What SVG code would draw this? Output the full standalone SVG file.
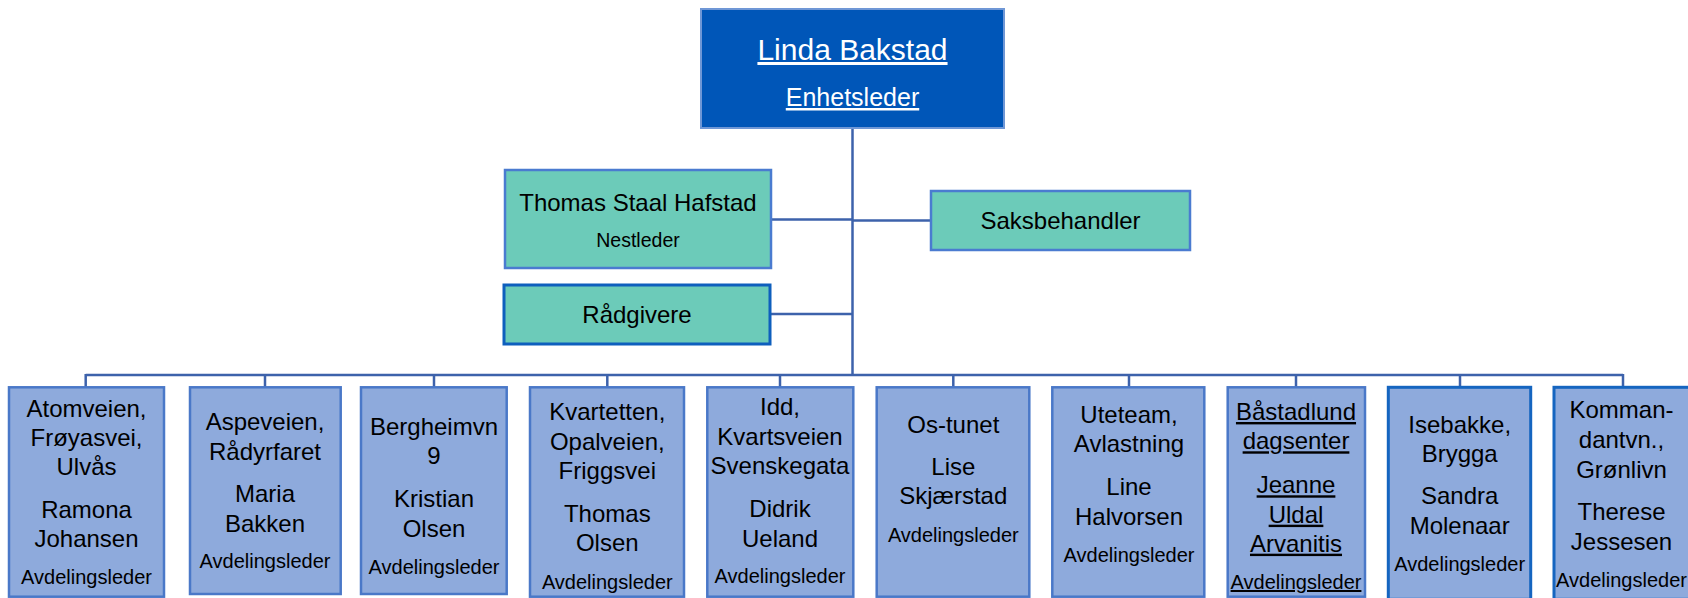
<svg xmlns="http://www.w3.org/2000/svg" width="1688" height="598" viewBox="0 0 1688 598">
<style>
text{font-family:"Liberation Sans",Arial,sans-serif;text-anchor:middle;fill:#000}
.big{font-size:24px}
.sm{font-size:20px}
.u{text-decoration:underline}
.dept{fill:#8eaadc;stroke:#4a78c8;stroke-width:2.5}
.dept2{fill:#8eaadc;stroke:#1565c0;stroke-width:3}
.teal{fill:#6ccbb9;stroke:#4a7bd0;stroke-width:2.5}
.teal2{fill:#6ccbb9;stroke:#0e5fbd;stroke-width:3}
.conn line{stroke:#3d62ab;stroke-width:2.5;fill:none}
</style>
<rect width="1688" height="598" fill="#ffffff"/>
<g class="conn" id="connectors">
<line x1="852.5" y1="128" x2="852.5" y2="376"/>
<line x1="771" y1="219.5" x2="852.5" y2="219.5"/>
<line x1="852.5" y1="220.5" x2="931" y2="220.5"/>
<line x1="770" y1="314" x2="852.5" y2="314"/>
<line x1="85.7" y1="375" x2="1623" y2="375"/>
<line x1="85.7" y1="374" x2="85.7" y2="387"/>
<line x1="265" y1="374" x2="265" y2="387"/>
<line x1="434" y1="374" x2="434" y2="387"/>
<line x1="607.3" y1="374" x2="607.3" y2="387"/>
<line x1="780" y1="374" x2="780" y2="387"/>
<line x1="953.3" y1="374" x2="953.3" y2="387"/>
<line x1="1129" y1="374" x2="1129" y2="387"/>
<line x1="1296" y1="374" x2="1296" y2="387"/>
<line x1="1460" y1="374" x2="1460" y2="387"/>
<line x1="1623" y1="374" x2="1623" y2="387"/>
</g>
<g id="n-linda">
<rect x="701" y="9" width="303" height="119" fill="#0056b8" stroke="#6f97d6" stroke-width="2"/>
<text x="852.5" y="60" class="u" style="font-size:30px;fill:#fff">Linda Bakstad</text>
<text x="852.5" y="106" class="u" style="font-size:25px;fill:#fff">Enhetsleder</text>
</g>
<g id="n-thomas">
<rect x="505" y="170" width="266" height="98" class="teal"/>
<text x="638" y="210.7" class="big">Thomas Staal Hafstad</text>
<text x="638" y="247.3" style="font-size:19.5px">Nestleder</text>
</g>
<g id="n-saks">
<rect x="931" y="191" width="259" height="59" class="teal"/>
<text x="1060.5" y="229" class="big">Saksbehandler</text>
</g>
<g id="n-radgivere">
<rect x="504" y="285" width="266" height="59" class="teal2"/>
<text x="637" y="322.7" class="big">Rådgivere</text>
</g>
<g id="n-atomveien">
<rect x="9" y="387.3" width="155" height="209.4" class="dept"/>
<text x="86.5" y="416.7" class="big">Atomveien,</text>
<text x="86.5" y="445.7" class="big">Frøyasvei,</text>
<text x="86.5" y="475" class="big">Ulvås</text>
<text x="86.5" y="517.7" class="big">Ramona</text>
<text x="86.5" y="546.7" class="big">Johansen</text>
<text x="86.5" y="584.3" class="sm">Avdelingsleder</text>
</g>
<g id="n-aspeveien">
<rect x="190" y="387.3" width="150.7" height="206.7" class="dept"/>
<text x="265" y="430" class="big">Aspeveien,</text>
<text x="265" y="460" class="big">Rådyrfaret</text>
<text x="265" y="502.3" class="big">Maria</text>
<text x="265" y="531.7" class="big">Bakken</text>
<text x="265" y="568.3" class="sm">Avdelingsleder</text>
</g>
<g id="n-bergheim">
<rect x="361" y="387.3" width="145.7" height="206.7" class="dept"/>
<text x="434" y="435" class="big">Bergheimvn</text>
<text x="434" y="464.3" class="big">9</text>
<text x="434" y="506.7" class="big">Kristian</text>
<text x="434" y="536.7" class="big">Olsen</text>
<text x="434" y="574" class="sm">Avdelingsleder</text>
</g>
<g id="n-kvartetten">
<rect x="530" y="387.3" width="154" height="209.4" class="dept"/>
<text x="607.3" y="420" class="big">Kvartetten,</text>
<text x="607.3" y="450" class="big">Opalveien,</text>
<text x="607.3" y="479.3" class="big">Friggsvei</text>
<text x="607.3" y="521.7" class="big">Thomas</text>
<text x="607.3" y="551" class="big">Olsen</text>
<text x="607.3" y="589" class="sm">Avdelingsleder</text>
</g>
<g id="n-idd">
<rect x="707.3" y="387.3" width="146" height="209.4" class="dept"/>
<text x="780" y="415" class="big">Idd,</text>
<text x="780" y="445" class="big">Kvartsveien</text>
<text x="780" y="474.3" class="big">Svenskegata</text>
<text x="780" y="516.7" class="big">Didrik</text>
<text x="780" y="546.7" class="big">Ueland</text>
<text x="780" y="583.3" class="sm">Avdelingsleder</text>
</g>
<g id="n-ostunet">
<rect x="876.7" y="387.3" width="152.6" height="209.4" class="dept"/>
<text x="953.3" y="432.7" class="big">Os-tunet</text>
<text x="953.3" y="475" class="big">Lise</text>
<text x="953.3" y="504.3" class="big">Skjærstad</text>
<text x="953.3" y="542.3" class="sm">Avdelingsleder</text>
</g>
<g id="n-uteteam">
<rect x="1052.3" y="387.3" width="152" height="209.4" class="dept"/>
<text x="1129" y="423.3" class="big">Uteteam,</text>
<text x="1129" y="451.7" class="big">Avlastning</text>
<text x="1129" y="495" class="big">Line</text>
<text x="1129" y="525" class="big">Halvorsen</text>
<text x="1129" y="561.7" class="sm">Avdelingsleder</text>
</g>
<g id="n-bastadlund">
<rect x="1227.7" y="387.3" width="137.3" height="209.4" class="dept"/>
<text x="1296" y="420" class="big u">Båstadlund</text>
<text x="1296" y="449.3" class="big u">dagsenter</text>
<text x="1296" y="493.3" class="big u">Jeanne</text>
<text x="1296" y="522.7" class="big u">Uldal</text>
<text x="1296" y="551.7" class="big u">Arvanitis</text>
<text x="1296" y="589" class="sm u">Avdelingsleder</text>
</g>
<g id="n-isebakke">
<rect x="1388.3" y="387.3" width="142.4" height="212" class="dept2"/>
<text x="1459.7" y="432.7" class="big">Isebakke,</text>
<text x="1459.7" y="461.7" class="big">Brygga</text>
<text x="1459.7" y="504.3" class="big">Sandra</text>
<text x="1459.7" y="534" class="big">Molenaar</text>
<text x="1459.7" y="571" class="sm">Avdelingsleder</text>
</g>
<g id="n-kommandant">
<rect x="1554" y="387.3" width="137" height="212" class="dept2"/>
<text x="1621.5" y="418.3" class="big">Komman-</text>
<text x="1621.5" y="447.7" class="big">dantvn.,</text>
<text x="1621.5" y="477.7" class="big">Grønlivn</text>
<text x="1621.5" y="520" class="big">Therese</text>
<text x="1621.5" y="550" class="big">Jessesen</text>
<text x="1621.5" y="587.3" class="sm">Avdelingsleder</text>
</g>
</svg>
